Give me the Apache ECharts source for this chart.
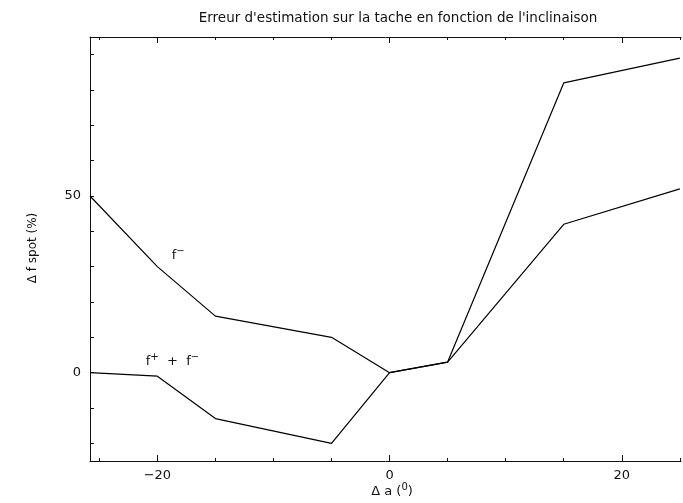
<!DOCTYPE html>
<html lang="fr">
<head>
    <meta charset="UTF-8">
    <title>Erreur d'estimation</title>
    <script src="https://cdn.jsdelivr.net/npm/echarts@6.0.0/dist/echarts.min.js"></script>
    <style>
        html,body{margin:0;padding:0;background:#fff}
        #chart{width:683px;height:503px}
    </style>
</head>
<body>
    <div id="chart"></div>
    <script>
        // data
        var incl = [-25.8, -20, -15, -5, 0, 5, 15, 25];
        var fMinus = [50, 30, 16, 10, 0, 3, 82, 89];
        var fSum = [0, -1, -13, -20, 0, 3, 42, 52];

        var xMajor = [-20, 0, 20];
        var xMinor = [-25, -15, -10, -5, 5, 10, 15, 25];
        var yTicks = [-20, -10, 0, 10, 20, 30, 40, 50, 60, 70, 80, 90];
        var yLabels = [0, 50];

        // curve labels, in data coords
        var notes = [
            {text: 'f{s|\u2212}', x: -18.2, y: 33},
            {text: 'f{s|+}  +  f{s|\u2212}', x: -18.7, y: 3}
        ];

        var font = 'DejaVu Sans';
        var ink = '#111';

        function pairs(xs, ys) {
            var out = [];
            for (var i = 0; i < xs.length; i++) out.push([xs[i], ys[i]]);
            return out;
        }

        function xAx(pos, ticks, len, showLine, labels) {
            return {
                type: 'value', position: pos, min: -25.8, max: 25.1,
                splitLine: {show: false},
                axisLine: {show: showLine, onZero: false, lineStyle: {color: ink, width: 1}},
                axisTick: {show: true, inside: true, length: len, customValues: ticks, lineStyle: {color: ink, width: 1}},
                axisLabel: labels ? {show: true, customValues: labels, color: ink, fontFamily: font, fontSize: 13, margin: 8,
                    formatter: function (v) { return String(v).replace('-', '\u2212'); }} : {show: false}
            };
        }

        var supStyle = {fontSize: 10, fontFamily: font, fill: ink, padding: [0, 0, 9, 0]};

        var mychart = echarts.init(document.getElementById('chart'), null, {renderer: 'canvas'});
        var option = {
            animation: false,
            title: {
                text: "Erreur d'estimation sur la tache en fonction de l'inclinaison",
                left: 393, top: 6, textAlign: 'center',
                textStyle: {fontFamily: font, fontSize: 13.5, fontWeight: 'normal', color: ink}
            },
            grid: {left: 90, top: 37, width: 591, height: 424},
            xAxis: [
                xAx('bottom', xMajor, 6, true, xMajor),
                xAx('bottom', xMinor, 3, false, null),
                xAx('top', xMajor, 6, true, null),
                xAx('top', xMinor, 3, false, null)
            ],
            yAxis: [{
                type: 'value', position: 'left', min: -25, max: 95,
                splitLine: {show: false},
                axisLine: {show: true, onZero: false, lineStyle: {color: ink, width: 1}},
                axisTick: {show: true, inside: true, length: 4, customValues: yTicks, lineStyle: {color: ink, width: 1}},
                axisLabel: {show: true, customValues: yLabels, color: ink, fontFamily: font, fontSize: 13, margin: 9}
            }],
            graphic: [
                {type: 'text', x: 392, y: 492,
                    style: {text: '\u0394 a ({s|0})', fill: ink, font: '13px ' + font, align: 'center', verticalAlign: 'middle',
                        rich: {s: supStyle}}},
                {type: 'text', x: 33, y: 248, rotation: Math.PI / 2,
                    style: {text: '\u0394 f spot (%)', fill: ink, font: '12px ' + font, align: 'center', verticalAlign: 'middle'}}
            ],
            series: [
                {name: 'f-', type: 'line', data: pairs(incl, fMinus), symbol: 'none',
                    lineStyle: {color: '#000', width: 1.2}},
                {name: 'f+ + f-', type: 'line', data: pairs(incl, fSum), symbol: 'none',
                    lineStyle: {color: '#000', width: 1.2}}
            ]
        };
        mychart.setOption(option);

        // place the curve labels from data coords
        var g = option.graphic.slice();
        notes.forEach(function (n) {
            var p = mychart.convertToPixel({xAxisIndex: 0, yAxisIndex: 0}, [n.x, n.y]);
            g.push({type: 'text', x: p[0], y: p[1],
                style: {text: n.text, fill: ink, font: '13px ' + font, align: 'center', verticalAlign: 'middle',
                    rich: {s: supStyle}}});
        });
        mychart.setOption({graphic: g}, {replaceMerge: ['graphic']});
    </script>
</body>
</html>
